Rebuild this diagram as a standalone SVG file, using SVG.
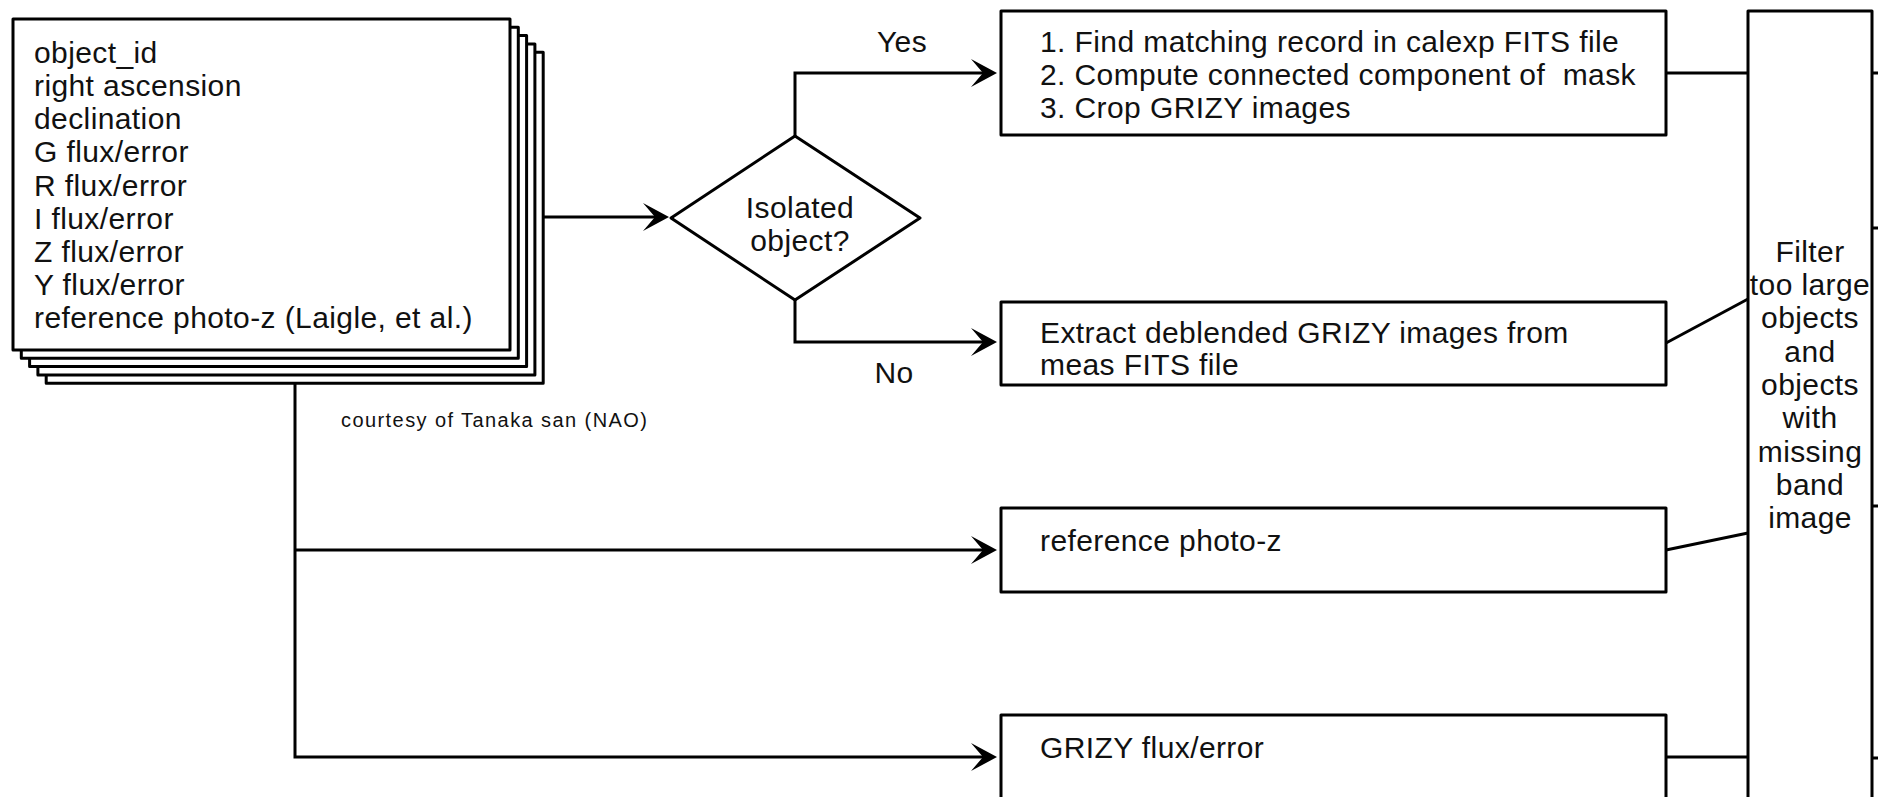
<svg xmlns="http://www.w3.org/2000/svg" width="1878" height="797" viewBox="0 0 1878 797">
<style>
.box{fill:#fff;stroke:#000;stroke-width:3;stroke-linejoin:round}
.ln{fill:none;stroke:#000;stroke-width:3}
.t{font-family:"Liberation Sans",Arial,Helvetica,sans-serif;font-size:30px;fill:#111;letter-spacing:0.4px}
.m{text-anchor:middle}
.s{font-size:20px;letter-spacing:0}
</style>
<defs>
<marker id="arr" viewBox="0 0 26 28" refX="14" refY="14" markerWidth="26" markerHeight="28" markerUnits="userSpaceOnUse" orient="auto">
<path d="M0,0 L26,14 L0,28 L12,14 Z" fill="#000"/>
</marker>
</defs>
<g id="connectors">
<path class="ln" d="M543,217 H657" marker-end="url(#arr)"/>
<path class="ln" d="M795,136 V73 H985" marker-end="url(#arr)"/>
<path class="ln" d="M795,300 V342 H985" marker-end="url(#arr)"/>
<path class="ln" d="M295,383 V757 H985" marker-end="url(#arr)"/>
<path class="ln" d="M295,550 H985" marker-end="url(#arr)"/>
<path class="ln" d="M1666,73 H1748"/>
<path class="ln" d="M1666,343 L1748,299"/>
<path class="ln" d="M1666,550 L1748,533"/>
<path class="ln" d="M1666,757 H1748"/>
<path class="ln" d="M1872,73 H1880 M1872,228 H1880 M1872,506 H1880 M1872,758 H1880"/>
<text class="t m" x="902" y="52">Yes</text>
<text class="t m" x="894" y="383">No</text>
</g>
<g id="node-catalog">
<rect class="box" x="46.2" y="52.2" width="497" height="331"/>
<rect class="box" x="37.9" y="43.9" width="497" height="331"/>
<rect class="box" x="29.6" y="35.6" width="497" height="331"/>
<rect class="box" x="21.3" y="27.3" width="497" height="331"/>
<rect class="box" x="13" y="19" width="497" height="331"/>
<text class="t" x="34" y="62.7">object_id</text>
<text class="t" x="34" y="95.9">right ascension</text>
<text class="t" x="34" y="129.1">declination</text>
<text class="t" x="34" y="162.3">G flux/error</text>
<text class="t" x="34" y="195.5">R flux/error</text>
<text class="t" x="34" y="228.7">I flux/error</text>
<text class="t" x="34" y="261.9">Z flux/error</text>
<text class="t" x="34" y="295.1">Y flux/error</text>
<text class="t" x="34" y="328.3">reference photo-z (Laigle, et al.)</text>
</g>
<g id="note-courtesy">
<text class="t s" x="341" y="427" textLength="306" lengthAdjust="spacing">courtesy of Tanaka san (NAO)</text>
</g>
<g id="node-decision">
<polygon class="box" points="671,218 795,136 920,218 795,300"/>
<text class="t m" x="800" y="218">Isolated</text>
<text class="t m" x="800" y="251">object?</text>
</g>
<g id="node-isolated">
<rect class="box" x="1001" y="11" width="665" height="124"/>
<text class="t" x="1040" y="52">1. Find matching record in calexp FITS file</text>
<text class="t" x="1040" y="85" style="white-space:pre">2. Compute connected component of  mask</text>
<text class="t" x="1040" y="118">3. Crop GRIZY images</text>
</g>
<g id="node-deblended">
<rect class="box" x="1001" y="302" width="665" height="83"/>
<text class="t" x="1040" y="343">Extract deblended GRIZY images from</text>
<text class="t" x="1040" y="375">meas FITS file</text>
</g>
<g id="node-photoz">
<rect class="box" x="1001" y="508" width="665" height="84"/>
<text class="t" x="1040" y="551">reference photo-z</text>
</g>
<g id="node-flux">
<rect class="box" x="1001" y="715" width="665" height="86"/>
<text class="t" x="1040" y="758">GRIZY flux/error</text>
</g>
<g id="node-filter">
<rect class="box" x="1748" y="11" width="124" height="800"/>
<text class="t m" x="1810" y="261.7">Filter</text>
<text class="t m" x="1810" y="295">too large</text>
<text class="t m" x="1810" y="328.3">objects</text>
<text class="t m" x="1810" y="361.6">and</text>
<text class="t m" x="1810" y="395">objects</text>
<text class="t m" x="1810" y="428.3">with</text>
<text class="t m" x="1810" y="461.6">missing</text>
<text class="t m" x="1810" y="495">band</text>
<text class="t m" x="1810" y="528.3">image</text>
</g>
</svg>
